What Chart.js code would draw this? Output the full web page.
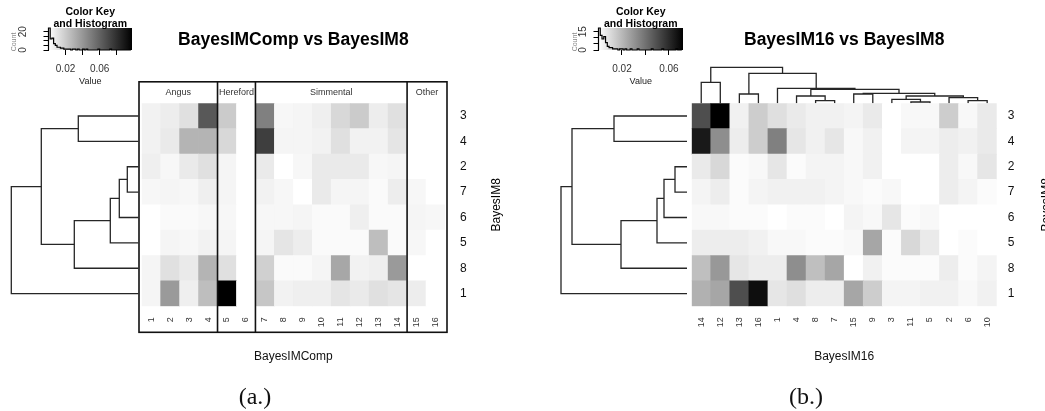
<!DOCTYPE html>
<html>
<head>
<meta charset="utf-8">
<title>BayesIM heatmaps</title>
<script src="https://cdn.jsdelivr.net/npm/chart.js@4.4.1/dist/chart.umd.min.js"></script>
<style>
  html, body { margin: 0; padding: 0; background: #fff; }
  body { position: relative; width: 1045px; height: 411px; overflow: hidden; }
  canvas { position: absolute; }
  .cap { position: absolute; width: 100px; text-align: center; font: 24px "Liberation Serif", "Times New Roman", serif; line-height: 26px; color: #111; }
</style>
</head>
<body>
<canvas id="keyA"></canvas>
<canvas id="dendA"></canvas>
<canvas id="heatA"></canvas>
<canvas id="keyB"></canvas>
<canvas id="dendB"></canvas>
<canvas id="colDendB"></canvas>
<canvas id="heatB"></canvas>
<div class="cap" style="left:205px; top:383px">(a.)</div>
<div class="cap" style="left:756px; top:383px">(b.)</div>
<script>
// rows of both heatmaps, top to bottom (BayesIM8 clusters)
const rowLabels = ['3', '4', '2', '7', '6', '5', '8', '1'];

// (a.) BayesIMComp vs BayesIM8
const compCols = ['1', '2', '3', '4', '5', '6', '7', '8', '9', '10', '11', '12', '13', '14', '15', '16'];
const breedNames = ['Angus', 'Hereford', 'Simmental', 'Other'];
const breedSizes = [4, 2, 8, 2];
const compValues = [
  [0.005, 0.007, 0.012, 0.064, 0.020, 0, 0.049, 0.003, 0.004, 0.006, 0.015, 0.020, 0.007, 0.012, 0, 0],
  [0.005, 0.008, 0.029, 0.029, 0.015, 0, 0.074, 0.004, 0.004, 0.005, 0.012, 0.005, 0.005, 0.010, 0, 0],
  [0.006, 0.003, 0.008, 0.012, 0.004, 0, 0.008, 0, 0.003, 0.008, 0.008, 0.008, 0.003, 0.004, 0, 0],
  [0.003, 0.004, 0.003, 0.006, 0.004, 0, 0.005, 0.003, 0, 0.008, 0.004, 0.004, 0.002, 0.007, 0.003, 0],
  [0, 0.002, 0.002, 0.003, 0.003, 0, 0.003, 0.003, 0.004, 0.002, 0.002, 0.006, 0.002, 0.002, 0.004, 0.003],
  [0, 0.004, 0.003, 0.005, 0.004, 0, 0.004, 0.010, 0.007, 0.002, 0.002, 0.002, 0.025, 0.002, 0.003, 0],
  [0.004, 0.012, 0.008, 0.029, 0.012, 0, 0.018, 0.002, 0.002, 0.004, 0.034, 0.005, 0.006, 0.039, 0, 0],
  [0.004, 0.039, 0.006, 0.025, 0.098, 0, 0.022, 0.005, 0.006, 0.006, 0.010, 0.008, 0.012, 0.010, 0.007, 0]
];
const compKeyMax = 0.098;
const compKeyTicks = [0.02, 0.04, 0.06, 0.08];
const compKeyLabels = [0.02, 0.06];
const compHistBin = 0.002;
const compHist = [24, 12, 13, 7, 5, 3, 3, 2, 2, 1, 1, 1, 1, 0, 1, 1, 0, 1, 0, 0, 1, 0, 1, 0, 0,
  0, 0, 0, 0, 1, 0, 0, 0, 0, 0, 0, 1, 0, 0, 0, 0, 0, 0, 0, 0, 0, 0, 0, 1];
const compCountMax = 24;
const compCountTicks = [0, 5, 10, 15, 20];
const compCountLabels = [0, 20];
const compRowMerge = [[-3, -4], [1, -5], [2, -6], [-1, -2], [3, -7], [4, 5], [6, -8]];
const compRowHeights = [11, 19, 28, 60, 64, 97, 127];

// (b.) BayesIM16 vs BayesIM8
const im16Cols = ['14', '12', '13', '16', '1', '4', '8', '7', '15', '9', '3', '11', '5', '2', '6', '10'];
const im16Values = [
  [0.050, 0.072, 0.004, 0.014, 0.009, 0.006, 0.004, 0.004, 0.003, 0.006, 0, 0.002, 0.002, 0.014, 0.002, 0.006],
  [0.065, 0.032, 0.005, 0.014, 0.036, 0.007, 0.004, 0.007, 0.002, 0.004, 0, 0.003, 0.003, 0.005, 0.004, 0.006],
  [0.006, 0.011, 0.001, 0.002, 0.007, 0.001, 0.003, 0.003, 0.002, 0.004, 0, 0, 0, 0.005, 0.002, 0.007],
  [0.003, 0.005, 0.001, 0.003, 0.004, 0.004, 0.004, 0.003, 0.002, 0.001, 0.002, 0, 0, 0.005, 0.003, 0.001],
  [0.002, 0.002, 0.001, 0.001, 0, 0.001, 0.001, 0, 0.003, 0.002, 0.007, 0.001, 0.002, 0, 0, 0],
  [0.005, 0.005, 0.005, 0.004, 0.002, 0.002, 0.001, 0.001, 0.002, 0.025, 0.001, 0.011, 0.006, 0, 0.001, 0],
  [0.018, 0.029, 0.007, 0.005, 0.005, 0.032, 0.018, 0.025, 0, 0.004, 0.001, 0.001, 0.001, 0.005, 0.001, 0.003],
  [0.022, 0.025, 0.050, 0.068, 0.007, 0.009, 0.005, 0.005, 0.025, 0.014, 0.003, 0.003, 0.004, 0.004, 0.002, 0.004]
];
const im16KeyMax = 0.072;
const im16KeyTicks = [0.02, 0.04, 0.06];
const im16KeyLabels = [0.02, 0.06];
const im16HistBin = 0.0015;
const im16Hist = [18, 12, 9, 11, 6, 3, 2, 2, 1, 1, 1, 0, 1, 1, 0, 1, 0, 0, 1, 0, 0, 0, 1, 0,
  0, 0, 0, 0, 0, 0, 1, 0, 0, 0, 0, 0, 1, 0, 0, 0, 0, 0, 0, 0, 1, 0, 0, 1];
const im16CountMax = 18;
const im16CountTicks = [0, 5, 10, 15];
const im16CountLabels = [0, 15];
const im16RowMerge = [[-3, -4], [1, -5], [2, -6], [-1, -2], [3, -7], [4, 5], [6, -8]];
const im16RowHeights = [12, 23, 30, 73, 66, 115, 126];
const im16ColMerge = [[-12, -13], [-7, -8], [-15, -16], [-11, 1], [-14, 3], [-6, 2], [4, 5], [-3, -4],
  [-9, -10], [9, 7], [6, 10], [-5, 11], [-1, -2], [8, 12], [13, 14]];
const im16ColHeights = [1.3, 2.6, 2.6, 4, 5.6, 7.3, 7.3, 9.3, 9.3, 10, 14, 15, 21, 30, 36];

const FONT = '"Liberation Sans", Arial, sans-serif';
Chart.defaults.font.family = FONT;
Chart.defaults.animation = false;
Chart.defaults.responsive = false;
Chart.defaults.devicePixelRatio = 1;
Chart.defaults.plugins.legend.display = false;
Chart.defaults.plugins.tooltip.enabled = false;

function place(id, box) {
  const cv = document.getElementById(id);
  cv.width = box.w;
  cv.height = box.h;
  cv.style.left = box.x + 'px';
  cv.style.top = box.y + 'px';
  return cv;
}

function grey(v, max) {
  const g = Math.round(255 * (1 - Math.min(v / max, 1)));
  return `rgb(${g},${g},${g})`;
}

// main title and the rotated BayesIM8 label
const heatTitles = {
  id: 'heatTitles',
  afterDraw(chart, args, o) {
    const { ctx, chartArea: a } = chart;
    ctx.save();
    ctx.fillStyle = '#000';
    ctx.textAlign = 'center';
    ctx.textBaseline = 'middle';
    ctx.font = 'bold 17.5px ' + FONT;
    ctx.fillText(o.title, (a.left + a.right) / 2, 40);
    ctx.font = '12px ' + FONT;
    ctx.translate(a.right + o.sideGap, (a.top + a.bottom) / 2);
    ctx.rotate(-Math.PI / 2);
    ctx.fillText(o.side, 0, 0);
    ctx.restore();
  }
};

// boxes round the breed groups in (a.)
const breedFrame = {
  id: 'breedFrame',
  afterDraw(chart, args, o) {
    if (!o || !o.names) return;
    const { ctx, chartArea: a, scales: { x } } = chart;
    const L = a.left - 2.7, R = a.right + 2, T = a.top - 21.5, B = a.bottom + 26;
    ctx.save();
    ctx.strokeStyle = '#111';
    ctx.lineWidth = 1.6;
    ctx.strokeRect(L, T, R - L, B - T);
    ctx.fillStyle = '#333';
    ctx.font = '9px ' + FONT;
    ctx.textAlign = 'center';
    ctx.textBaseline = 'middle';
    let start = 0;
    o.names.forEach((name, i) => {
      const end = start + o.sizes[i];
      const x0 = i === 0 ? L : x.getPixelForValue(start - 0.5);
      const x1 = i === o.names.length - 1 ? R : x.getPixelForValue(end - 0.5);
      if (i > 0) {
        ctx.beginPath();
        ctx.moveTo(x0, T);
        ctx.lineTo(x0, B);
        ctx.stroke();
      }
      ctx.fillText(name, (x0 + x1) / 2, T + 10.5);
      start = end;
    });
    ctx.restore();
  }
};

function heatmap(id, box, area, cfg) {
  new Chart(place(id, box), {
    type: 'bar',
    data: {
      labels: cfg.cols,
      datasets: cfg.values.map(row => ({
        data: row.map(() => 1),
        backgroundColor: row.map(v => grey(v, cfg.max)),
        borderWidth: 0,
        barPercentage: 1,
        categoryPercentage: 1
      })).reverse()
    },
    plugins: [heatTitles, breedFrame],
    options: {
      layout: { padding: { left: area.l - box.x, top: area.t - box.y, right: 0, bottom: 0 } },
      plugins: {
        heatTitles: { title: cfg.title, side: 'BayesIM8', sideGap: cfg.sideGap },
        breedFrame: { names: cfg.groups, sizes: cfg.groupSizes }
      },
      scales: {
        x: {
          stacked: true,
          grid: { display: false, drawTicks: false },
          border: { display: false },
          ticks: { autoSkip: false, minRotation: 90, maxRotation: 90, padding: 11, color: '#333', font: { size: 9 } },
          title: { display: true, text: cfg.xTitle, color: '#111', font: { size: 12 }, padding: { top: 0, bottom: 46.8 } },
          afterFit: s => { s.height = box.y + box.h - area.b; }
        },
        y: {
          stacked: true,
          position: 'right',
          min: 0,
          max: rowLabels.length,
          grid: { display: false, drawTicks: false },
          border: { display: false },
          afterBuildTicks: s => { s.ticks = rowLabels.map((_, i) => ({ value: rowLabels.length - 0.5 - i })); },
          ticks: { padding: cfg.labelGap, color: '#111', font: { size: 12 }, callback: (v, i) => rowLabels[i] },
          afterFit: s => { s.width = box.x + box.w - area.r; }
        }
      }
    }
  });
}

function dendroSegments(merge, heights, leafPos) {
  const pos = [];
  const node = k => k < 0 ? [leafPos(-k - 1), 0] : [pos[k - 1], heights[k - 1]];
  return merge.map(([a, b], i) => {
    const [pa, ha] = node(a), [pb, hb] = node(b), h = heights[i];
    pos.push((pa + pb) / 2);
    return [[pa, ha], [pa, h], [pb, h], [pb, hb]];
  });
}

function dendrogram(id, box, area, cfg) {
  const segs = dendroSegments(cfg.merge, cfg.heights, cfg.rows ? i => i + 0.5 : i => i);
  new Chart(place(id, box), {
    type: 'scatter',
    data: {
      datasets: segs.map(seg => ({
        data: seg.map(([p, h]) => cfg.rows ? { x: h, y: p } : { x: p, y: h }),
        showLine: true,
        borderColor: '#262626',
        borderWidth: 1.3,
        borderJoinStyle: 'miter',
        pointRadius: 0,
        clip: false
      }))
    },
    options: {
      layout: { padding: { left: area.l - box.x, top: area.t - box.y, right: box.x + box.w - area.r, bottom: box.y + box.h - area.b } },
      scales: cfg.rows ? {
        x: { display: false, min: 0, max: cfg.span, reverse: true },
        y: { display: false, min: 0, max: cfg.leaves, reverse: true }
      } : {
        x: { display: false, min: -0.5, max: cfg.leaves - 0.5 },
        y: { display: false, min: 0, max: cfg.span }
      }
    }
  });
}

// gradient, key title and count labels
const keyText = {
  id: 'keyText',
  beforeDatasetsDraw(chart) {
    const { ctx, chartArea: a } = chart;
    const g = ctx.createLinearGradient(a.left, 0, a.right, 0);
    g.addColorStop(0, '#ffffff');
    g.addColorStop(1, '#000000');
    ctx.save();
    ctx.fillStyle = g;
    ctx.fillRect(a.left, a.top, a.right - a.left, a.bottom - a.top);
    ctx.restore();
  },
  afterDraw(chart, args, o) {
    const { ctx, chartArea: a, scales: { y } } = chart;
    const cx = (a.left + a.right) / 2;
    const rot = (text, x, yy, font, color) => {
      ctx.save();
      ctx.translate(x, yy);
      ctx.rotate(-Math.PI / 2);
      ctx.font = font;
      ctx.fillStyle = color;
      ctx.fillText(text, 0, 0);
      ctx.restore();
    };
    ctx.save();
    ctx.textAlign = 'center';
    ctx.textBaseline = 'middle';
    ctx.fillStyle = '#000';
    ctx.font = 'bold 10.5px ' + FONT;
    ctx.fillText('Color Key', cx, 12);
    ctx.fillText('and Histogram', cx, 24);
    o.labels.forEach(v => rot(String(v), a.left - o.labelGap, y.getPixelForValue(v), '10px ' + FONT, '#333'));
    rot('Count', a.left - o.countGap, (a.top + a.bottom) / 2 + 3, '7px ' + FONT, '#888');
    ctx.restore();
  }
};

function colorKey(id, box, area, cfg) {
  const pts = [{ x: 0, y: 0 }]
    .concat(cfg.hist.map((c, i) => ({ x: i * cfg.bin, y: c })))
    .concat([{ x: cfg.hist.length * cfg.bin, y: cfg.hist[cfg.hist.length - 1] }]);
  new Chart(place(id, box), {
    type: 'scatter',
    data: { datasets: [{ data: pts, showLine: true, stepped: true, borderColor: '#000', borderWidth: 1.2, pointRadius: 0, clip: false }] },
    plugins: [keyText],
    options: {
      layout: { padding: { left: 0, top: area.t - box.y, right: box.x + box.w - area.r, bottom: 0 } },
      plugins: { keyText: { labels: cfg.countLabels, labelGap: cfg.labelGap, countGap: cfg.countGap } },
      scales: {
        x: {
          min: 0,
          max: cfg.max,
          afterBuildTicks: s => { s.ticks = cfg.ticks.map(v => ({ value: v })); },
          grid: { drawOnChartArea: false, tickLength: 5, color: '#000' },
          border: { display: false },
          ticks: { autoSkip: false, maxRotation: 0, padding: 8, color: '#333', font: { size: 10 },
            callback: v => cfg.labels.includes(v) ? v.toFixed(2) : '' },
          title: { display: true, text: 'Value', color: '#222', font: { size: 9 }, padding: { top: 0, bottom: 8 } },
          afterFit: s => { s.height = box.y + box.h - area.b; }
        },
        y: {
          min: 0,
          max: cfg.yMax,
          afterBuildTicks: s => { s.ticks = cfg.countTicks.map(v => ({ value: v })); },
          grid: { drawOnChartArea: false, tickLength: 5, color: '#000' },
          border: { display: true, color: '#000', width: 1 },
          ticks: { display: false },
          afterFit: s => { s.width = area.l - box.x; }
        }
      }
    }
  });
}

// (a.)
colorKey('keyA', { x: 0, y: 0, w: 140, h: 95 }, { l: 48.5, r: 132, t: 28, b: 50 }, {
  hist: compHist, bin: compHistBin, max: compKeyMax, ticks: compKeyTicks, labels: compKeyLabels,
  yMax: compCountMax, countTicks: compCountTicks, countLabels: compCountLabels, labelGap: 25, countGap: 34.5
});
dendrogram('dendA', { x: 0, y: 90, w: 145, h: 230 }, { l: 0, r: 138.3, t: 103.3, b: 306.3 }, {
  rows: true, merge: compRowMerge, heights: compRowHeights, span: 138.3, leaves: rowLabels.length
});
heatmap('heatA', { x: 0, y: 0, w: 522, h: 411 }, { l: 141.7, r: 445, t: 103.3, b: 306.3 }, {
  cols: compCols, values: compValues, max: compKeyMax, title: 'BayesIMComp vs BayesIM8',
  xTitle: 'BayesIMComp', labelGap: 15, sideGap: 52, groups: breedNames, groupSizes: breedSizes
});

// (b.)
colorKey('keyB', { x: 540, y: 0, w: 150, h: 95 }, { l: 598.5, r: 683, t: 28, b: 50 }, {
  hist: im16Hist, bin: im16HistBin, max: im16KeyMax, ticks: im16KeyTicks, labels: im16KeyLabels,
  yMax: im16CountMax, countTicks: im16CountTicks, countLabels: im16CountLabels, labelGap: 15.5, countGap: 23.5
});
dendrogram('dendB', { x: 540, y: 90, w: 155, h: 230 }, { l: 540, r: 687, t: 103.3, b: 306.3 }, {
  rows: true, merge: im16RowMerge, heights: im16RowHeights, span: 147, leaves: rowLabels.length
});
dendrogram('colDendB', { x: 680, y: 55, w: 330, h: 55 }, { l: 691.7, r: 996.7, t: 67.3, b: 103.3 }, {
  rows: false, merge: im16ColMerge, heights: im16ColHeights, span: 36, leaves: im16Cols.length
});
heatmap('heatB', { x: 540, y: 0, w: 505, h: 411 }, { l: 691.7, r: 996.7, t: 103.3, b: 306.3 }, {
  cols: im16Cols, values: im16Values, max: im16KeyMax, title: 'BayesIM16 vs BayesIM8',
  xTitle: 'BayesIM16', labelGap: 11, sideGap: 50.3
});
</script>
</body>
</html>
